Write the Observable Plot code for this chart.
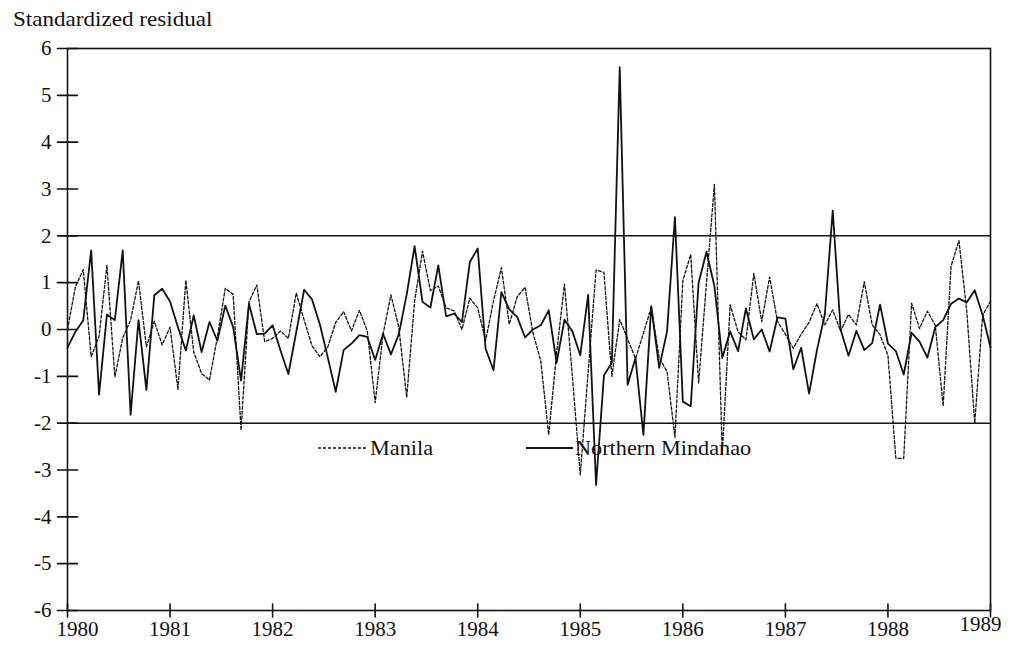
<!DOCTYPE html>
<html><head><meta charset="utf-8">
<script src="https://cdn.jsdelivr.net/npm/d3@7"></script>
<script src="https://cdn.jsdelivr.net/npm/@observablehq/plot@0.6"></script>
<style>
body{margin:0;background:#fff;font-family:"Liberation Serif","Times New Roman",serif;color:#111;}
#wrap{position:relative;width:1019px;height:646px;overflow:hidden;}
#title{position:absolute;left:13px;top:9px;font-size:21px;line-height:21px;transform:scaleX(1.1);transform-origin:left center;}
.leg{position:absolute;top:436px;height:24px;display:flex;align-items:center;font-size:21px;}
.leg span{margin-left:2px;display:inline-block;transform:scaleX(1.06);transform-origin:left center;}
</style></head>
<body>
<div id="wrap">
<div id="chart"></div>
<div id="title">Standardized residual</div>
<div class="leg" style="left:318px"><svg width="50" height="24"><line x1="0" x2="50" y1="12" y2="12" stroke="#111" stroke-width="1.3" stroke-dasharray="3,2"/></svg><span>Manila</span></div>
<div class="leg" style="left:526px"><svg width="47" height="24"><line x1="0" x2="47" y1="12" y2="12" stroke="#111" stroke-width="1.8"/></svg><span>Northern Mindanao</span></div>
</div>
<script>
// Standardized residuals, 13 periods per year, 1980 to 1989
const manila = [
  0.0, 0.91, 1.28, -0.58, -0.15, 1.37, -1.01, -0.18, 0.2, 1.04, -0.37, 0.18, -0.33,
  0.05, -1.28, 1.05, -0.48, -0.94, -1.08, -0.16, 0.88, 0.75, -2.15, 0.59, 0.95, -0.26,
  -0.19, -0.03, -0.19, 0.78, 0.2, -0.35, -0.58, -0.37, 0.15, 0.38, -0.03, 0.41, -0.03,
  -1.56, -0.1, 0.74, 0.04, -1.45, 0.61, 1.67, 0.83, 0.93, 0.46, 0.4, 0.0, 0.67,
  0.46, -0.24, 0.61, 1.32, 0.11, 0.7, 0.9, -0.07, -0.68, -2.25, -0.5, 0.97, -1.0,
  -3.1, -0.9, 1.27, 1.22, -1.0, 0.21, -0.2, -0.62, -0.08, 0.47, -0.6, -0.9, -2.3,
  1.04, 1.6, -1.14, 1.0, 3.1, -2.65, 0.53, -0.05, -0.22, 1.2, 0.17, 1.12, 0.17,
  -0.1, -0.4, -0.1, 0.15, 0.55, 0.1, 0.42, -0.04, 0.32, 0.1, 1.02, 0.1, -0.11,
  -0.55, -2.75, -2.75, 0.56, 0.02, 0.39, 0.09, -1.63, 1.35, 1.9, 0.38, -2.0, 0.3,
  0.6
];
const mindanao = [
  -0.38, -0.05, 0.2, 1.69, -1.39, 0.32, 0.2, 1.69, -1.82, 0.2, -1.29, 0.73, 0.87,
  0.6, 0.05, -0.45, 0.3, -0.48, 0.16, -0.24, 0.51, 0.05, -1.09, 0.55, -0.1, -0.09,
  0.09, -0.45, -0.95, -0.05, 0.85, 0.64, 0.1, -0.6, -1.33, -0.44, -0.3, -0.12, -0.16,
  -0.65, -0.09, -0.53, -0.1, 0.75, 1.78, 0.59, 0.47, 1.37, 0.28, 0.34, 0.16, 1.44,
  1.73, -0.41, -0.87, 0.8, 0.43, 0.27, -0.17, 0.0, 0.09, 0.41, -0.71, 0.21, -0.04,
  -0.55, 0.74, -3.32, -0.98, -0.71, 5.6, -1.18, -0.61, -2.25, 0.5, -0.82, -0.04, 2.4,
  -1.54, -1.64, 1.0, 1.66, 0.93, -0.61, -0.04, -0.46, 0.45, -0.21, 0.0, -0.47, 0.26,
  0.23, -0.85, -0.39, -1.37, -0.44, 0.32, 2.54, 0.0, -0.56, -0.03, -0.44, -0.29, 0.53,
  -0.3, -0.46, -0.96, -0.07, -0.26, -0.6, 0.05, 0.2, 0.55, 0.66, 0.58, 0.84, 0.31,
  -0.38
];
const years = [1980, 1981, 1982, 1983, 1984, 1985, 1986, 1987, 1988, 1989];
const periodsPerYear = 13;
const yTicks = [-6, -5, -4, -3, -2, -1, 0, 1, 2, 3, 4, 5, 6];
const bands = [-2, 2];

const tickPos = years.map((y, k) => k * periodsPerYear);
const yearOf = d => String(years[tickPos.indexOf(d)]);
const midTicks = tickPos.slice(1, -1);
const firstTick = tickPos.slice(0, 1);
const lastTick = tickPos.slice(-1);

const lineShape = {draw(ctx, l) { ctx.moveTo(0, 0); ctx.lineTo(0, -l); }};
const ink = "#111";
const font = "Liberation Serif";

const chart = Plot.plot({
  width: 1019, height: 646,
  marginLeft: 67, marginRight: 29, marginTop: 48, marginBottom: 36,
  x: {domain: [0, tickPos[tickPos.length - 1]]},
  y: {domain: [yTicks[0], yTicks[yTicks.length - 1]]},
  style: {fontFamily: font, fontSize: "21px", color: ink, background: "transparent"},
  marks: [
    Plot.ruleY(bands, {stroke: ink, strokeWidth: 1.5}),
    Plot.line(manila, {x: (d, i) => i, y: d => d, stroke: ink, strokeWidth: 1.3, strokeDasharray: "3,2"}),
    Plot.line(mindanao, {x: (d, i) => i, y: d => d, stroke: ink, strokeWidth: 1.8}),
    Plot.frame({stroke: ink, strokeWidth: 1.6}),
    Plot.vector(yTicks, {y: d => d, frameAnchor: "left", rotate: 90, length: 20, anchor: "middle", shape: lineShape, stroke: ink, strokeWidth: 1.6}),
    Plot.vector(tickPos, {x: d => d, frameAnchor: "bottom", rotate: 0, length: 13, anchor: "middle", shape: lineShape, stroke: ink, strokeWidth: 1.6}),
    Plot.axisY(yTicks, {tickSize: 0, tickPadding: 16, tickFormat: d => String(d), label: null, fontSize: 21}),
    Plot.axisX(midTicks, {tickSize: 0, tickPadding: 11, tickFormat: yearOf, label: null, fontSize: 21}),
    Plot.axisX(firstTick, {tickSize: 0, tickPadding: 11, tickFormat: yearOf, label: null, fontSize: 21, dx: 10}),
    Plot.axisX(lastTick, {tickSize: 0, tickPadding: 11, tickFormat: yearOf, label: null, fontSize: 21, dx: -10, dy: -5})
  ]
});
document.getElementById("chart").appendChild(chart);
</script>
</body></html>
